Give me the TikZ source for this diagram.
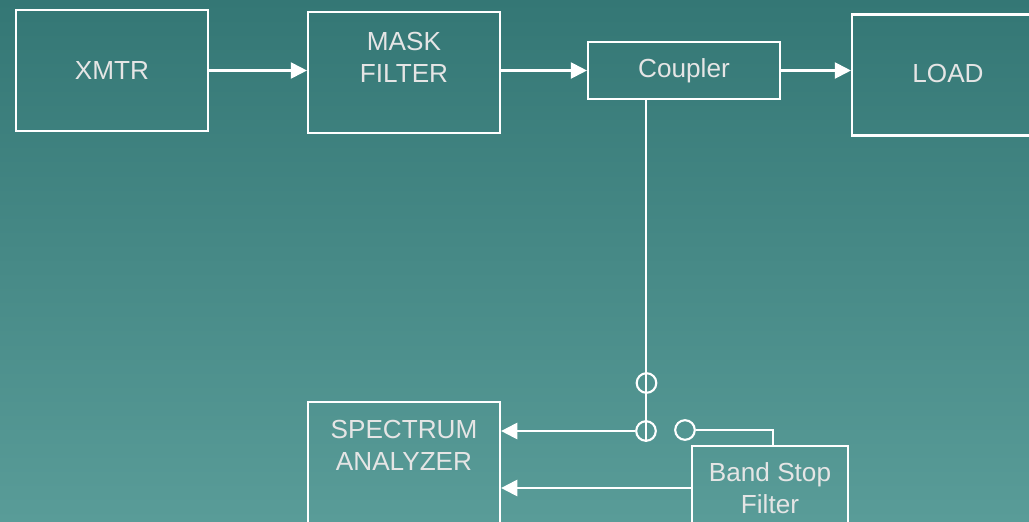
\documentclass[tikz,border=0pt]{standalone}
\usepackage{fontspec}
\setmainfont{Liberation Sans}
\usetikzlibrary{arrows.meta,calc}
\definecolor{bgtop}{RGB}{52,119,117}
\definecolor{bgbot}{RGB}{89,156,152}
\definecolor{txt}{RGB}{229,229,229}

\begin{document}
\begin{tikzpicture}[
    x=0.025cm, y=-0.025cm,
    block/.style={draw=white, line width=1.5pt, rectangle, align=center, text=txt, inner sep=0pt,
        font=\fontsize{18.6}{22.5}\selectfont, minimum width=4.8cm, minimum height=3.025cm},
    toptext/.style={text height=1.3cm, text depth=#1},
    tap/.style={draw=white, line width=1.5pt, circle, minimum size=0.49cm, inner sep=0pt},
    wire/.style={white, line width=1.5pt},
    arr/.style={wire, -{Triangle[length=11.5pt, width=11.5pt]}},
]

% --- background ---
\useasboundingbox (0,0) rectangle (1029,521);
\clip (0,0) rectangle (1029,521);
\shade[top color=bgtop, bottom color=bgbot] (0,0) rectangle (1029,521);

% --- blocks ---
\node[block] (xmtr) at (112,70.5) {XMTR};
\node[block, toptext=0.825cm] (mask) at (404,72.5) {MASK\\FILTER};
\node[block, minimum height=1.425cm] (coupler) at (684,70.5) {Coupler};
\node[block, text depth=0.06cm] (load) at (948,75) {LOAD};
\node[block, toptext=0.925cm] (spectrum) at (404,462.5) {SPECTRUM\\ANALYZER};
\node[block, minimum width=3.9cm, minimum height=2.1cm] (bandstop) at (770,488) {Band Stop\\Filter};

% --- switch contacts ---
\node[tap] (tapa) at (646.5,383) {};
\node[tap] (tapb) at (646,431) {};
\node[tap] (tapc) at (685,430) {};

% --- signal path ---
\draw[arr] (xmtr.east) -- (xmtr.east -| mask.west);
\draw[arr] (coupler.west -| mask.east) -- (coupler.west);
\draw[arr] (coupler.east) -- (coupler.east -| load.west);

% --- sample path ---
\draw[wire] (tapb.south) -- (tapb.south |- coupler.south);
\draw[arr] (tapb.west) -- (tapb.west -| spectrum.east);
\draw[wire] (tapc.east) -| ([xshift=0.075cm]bandstop.north);
\draw[arr] (bandstop.west) -- (bandstop.west -| spectrum.east);
\end{tikzpicture}
\end{document}
